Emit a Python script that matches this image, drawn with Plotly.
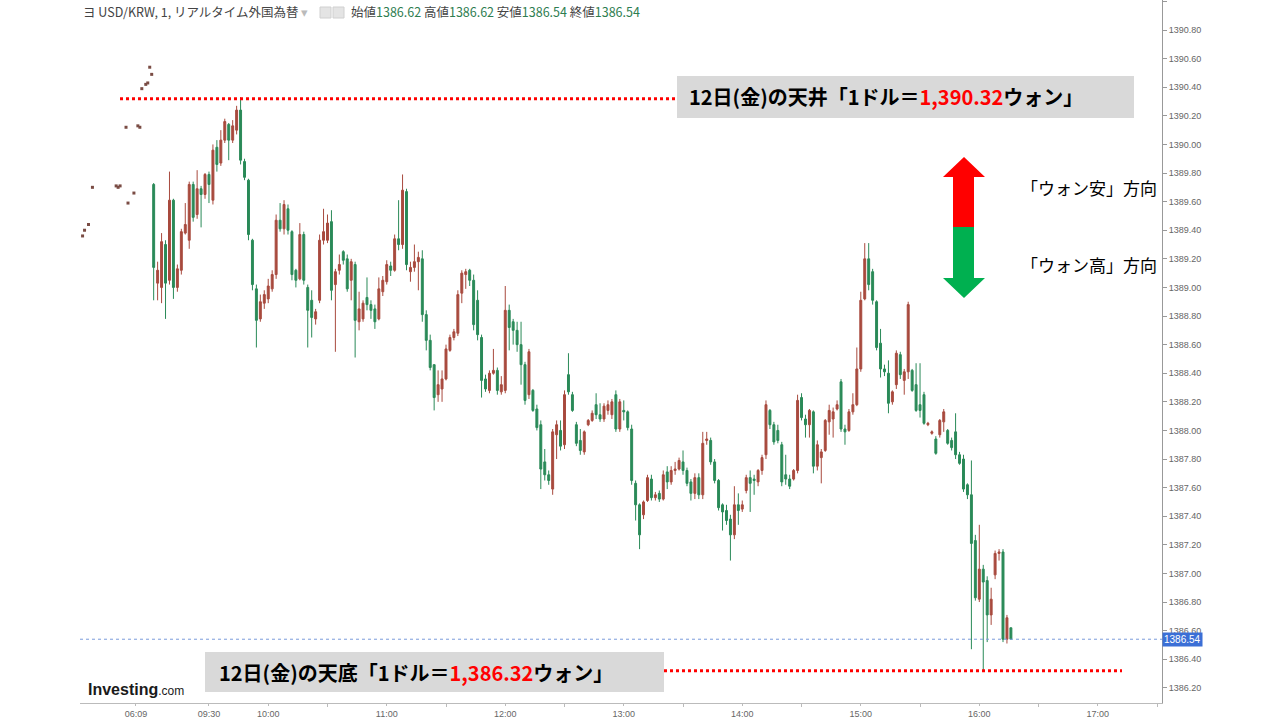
import plotly.graph_objects as go

# ---------------- data ----------------
# 2-minute bars, bar i starts at minute START_MIN + STEP*i relative to 09:30
START_MIN = -28
STEP = 2

OPEN = [1389.72,1389.03,1389.00,1389.30,1389.05,1389.61,1389.00,1389.12,1389.38,1389.33,
        1389.72,1389.51,1389.69,1389.65,1389.79,1389.61,1389.98,1389.87,1390.03,1390.14,
        1390.03,1390.10,1390.24,1389.88,1389.75,1389.33,1388.99,1388.78,1388.89,1388.92,
        1388.99,1389.09,1389.47,1389.41,1389.55,1389.39,1389.12,1389.06,1389.37,1389.00,
        1388.91,1388.78,1388.91,1389.33,1389.33,1389.46,1389.02,1389.12,1389.25,1389.20,
        1389.05,1389.16,1388.76,1388.78,1388.93,1388.88,1388.85,1388.78,1388.97,1389.04,
        1389.15,1389.12,1389.34,1389.30,1389.67,1389.11,1389.14,1389.18,1389.20,1388.81,
        1388.63,1388.46,1388.25,1388.29,1388.36,1388.56,1388.65,1388.68,1388.96,1389.09,
        1389.12,1389.05,1388.91,1388.65,1388.36,1388.28,1388.40,1388.42,1388.27,1388.28,
        1388.84,1388.76,1388.70,1388.60,1388.46,1388.25,1388.28,1388.15,1388.04,1387.78,
        1387.69,1387.59,1387.97,1388.00,1387.90,1388.39,1388.25,1388.04,1387.93,1387.85,
        1388.04,1388.07,1388.18,1388.11,1388.08,1388.14,1388.11,1388.25,1388.01,1388.14,
        1388.13,1388.01,1387.63,1387.48,1387.41,1387.51,1387.66,1387.53,1387.56,1387.52,
        1387.71,1387.64,1387.72,1387.73,1387.78,1387.72,1387.64,1387.56,1387.67,1387.55,
        1387.93,1387.93,1387.78,1387.65,1387.48,1387.44,1387.38,1387.27,1387.48,1387.45,
        1387.58,1387.67,1387.66,1387.64,1387.72,1387.83,1388.14,1388.04,1388.00,1387.90,
        1387.69,1387.66,1387.66,1387.72,1388.23,1388.08,1388.04,1388.13,1387.75,1387.81,
        1387.86,1388.06,1388.08,1388.15,1388.34,1388.01,1388.00,1388.13,1388.18,1388.43,
        1388.92,1389.20,1389.11,1388.90,1388.61,1388.43,1388.40,1388.20,1388.32,1388.53,
        1388.35,1388.41,1388.42,1388.32,1388.18,1388.25,1388.04,1387.98,1387.94,1387.97,
        1388.06,1388.00,1387.93,1387.99,1387.83,1387.80,1387.62,1387.55,1387.23,1386.82,
        1387.03,1386.95,1386.71,1386.99,1387.14,1387.15,1386.54,1386.62]

HIGH = [1389.73,1389.18,1389.38,1389.33,1389.81,1389.62,1389.16,1389.41,1389.59,1389.74,
        1389.74,1389.82,1389.71,1389.80,1389.81,1390.00,1390.03,1390.10,1390.18,1390.15,
        1390.17,1390.27,1390.33,1389.90,1389.76,1389.34,1389.02,1388.95,1388.98,1389.06,
        1389.12,1389.51,1389.59,1389.61,1389.58,1389.40,1389.13,1389.45,1389.39,1389.02,
        1388.98,1388.85,1389.37,1389.55,1389.51,1389.54,1389.13,1389.23,1389.26,1389.23,
        1389.20,1389.18,1388.97,1388.91,1389.07,1388.91,1388.88,1389.07,1389.08,1389.19,
        1389.18,1389.37,1389.61,1389.79,1389.69,1389.18,1389.30,1389.25,1389.26,1388.84,
        1388.67,1388.46,1388.42,1388.42,1388.60,1388.67,1388.71,1388.98,1389.12,1389.13,
        1389.13,1389.09,1388.98,1388.67,1388.39,1388.42,1388.57,1388.44,1388.38,1389.01,
        1388.88,1388.78,1388.76,1388.76,1388.48,1388.57,1388.29,1388.18,1388.07,1387.87,
        1387.72,1388.01,1388.07,1388.07,1388.28,1388.54,1388.27,1388.06,1388.01,1388.00,
        1388.08,1388.14,1388.26,1388.19,1388.19,1388.21,1388.22,1388.28,1388.22,1388.21,
        1388.14,1388.04,1387.65,1387.49,1387.51,1387.69,1387.69,1387.57,1387.58,1387.72,
        1387.75,1387.75,1387.78,1387.81,1387.86,1387.74,1387.66,1387.70,1387.70,1387.99,
        1387.99,1387.95,1387.80,1387.66,1387.49,1387.48,1387.41,1387.61,1387.56,1387.51,
        1387.69,1387.72,1387.69,1387.73,1387.83,1388.21,1388.15,1388.06,1388.04,1387.92,
        1387.83,1387.69,1387.73,1388.25,1388.26,1388.11,1388.15,1388.14,1387.93,1387.87,
        1388.08,1388.18,1388.16,1388.21,1388.36,1388.04,1388.15,1388.26,1388.58,1388.97,
        1389.31,1389.31,1389.13,1388.91,1388.71,1388.46,1388.49,1388.28,1388.56,1388.55,
        1388.43,1388.90,1388.43,1388.47,1388.47,1388.27,1388.06,1388.00,1387.96,1388.08,
        1388.15,1388.01,1387.95,1388.12,1387.85,1387.83,1387.63,1387.79,1387.27,1387.34,
        1387.06,1386.98,1386.90,1387.16,1387.17,1387.17,1386.71,1386.62]

LOW = [1388.91,1388.91,1388.89,1388.78,1389.02,1388.92,1388.97,1389.09,1389.37,1389.27,
       1389.46,1389.48,1389.42,1389.62,1389.59,1389.58,1389.81,1389.85,1390.01,1389.89,
       1390.01,1390.07,1389.86,1389.75,1389.33,1388.98,1388.58,1388.76,1388.85,1388.89,
       1388.97,1389.06,1389.39,1389.37,1389.37,1389.05,1389.00,1389.05,1389.02,1388.58,
       1388.65,1388.74,1388.89,1389.30,1389.31,1388.91,1388.55,1389.09,1389.16,1388.97,
       1388.91,1388.51,1388.70,1388.76,1388.84,1388.78,1388.71,1388.77,1388.94,1389.02,
       1389.08,1389.11,1389.26,1389.27,1389.12,1389.04,1389.11,1388.98,1388.76,1388.56,
       1388.42,1388.14,1388.20,1388.20,1388.35,1388.55,1388.63,1388.66,1388.89,1388.99,
       1389.01,1388.70,1388.63,1388.23,1388.27,1388.26,1388.39,1388.25,1388.25,1388.26,
       1388.56,1388.60,1388.55,1388.32,1388.18,1388.22,1388.13,1388.00,1387.59,1387.65,
       1387.62,1387.55,1387.80,1387.86,1387.87,1388.25,1388.13,1387.89,1387.83,1387.83,
       1388.03,1388.06,1388.08,1388.06,1388.06,1388.11,1388.08,1387.99,1387.99,1388.07,
       1388.00,1387.62,1387.37,1387.17,1387.38,1387.50,1387.51,1387.51,1387.50,1387.51,
       1387.59,1387.62,1387.69,1387.72,1387.69,1387.61,1387.51,1387.52,1387.52,1387.52,
       1387.90,1387.76,1387.63,1387.44,1387.30,1387.34,1387.09,1387.24,1387.34,1387.43,
       1387.56,1387.43,1387.55,1387.61,1387.69,1387.80,1388.01,1387.90,1387.91,1387.61,
       1387.62,1387.59,1387.65,1387.70,1388.07,1387.95,1387.95,1387.70,1387.72,1387.63,
       1387.85,1387.97,1387.95,1388.14,1387.99,1387.90,1387.99,1388.11,1388.17,1388.41,
       1388.91,1388.98,1388.88,1388.56,1388.37,1388.38,1388.12,1388.18,1388.29,1388.36,
       1388.25,1388.36,1388.27,1388.13,1388.09,1388.04,1388.03,1387.97,1387.83,1387.95,
       1387.99,1387.90,1387.86,1387.80,1387.76,1387.57,1387.52,1386.47,1386.81,1386.80,
       1386.32,1386.52,1386.64,1386.96,1387.09,1386.52,1386.51,1386.54]

CLOSE = [1389.14,1389.12,1389.32,1389.03,1389.61,1389.00,1389.13,1389.39,1389.44,1389.72,
         1389.49,1389.69,1389.65,1389.79,1389.72,1389.96,1389.86,1390.03,1390.16,1390.03,
         1390.13,1390.24,1389.89,1389.77,1389.37,1389.02,1388.77,1388.90,1388.95,1389.01,
         1389.09,1389.47,1389.41,1389.58,1389.40,1389.09,1389.05,1389.37,1389.05,1388.84,
         1388.79,1388.83,1389.33,1389.39,1389.45,1388.98,1389.11,1389.16,1389.19,1388.99,
         1389.18,1388.77,1388.85,1388.89,1388.88,1388.84,1388.76,1388.99,1389.05,1389.16,
         1389.12,1389.34,1389.30,1389.68,1389.16,1389.14,1389.18,1389.21,1388.81,1388.63,
         1388.44,1388.23,1388.32,1388.36,1388.57,1388.65,1388.69,1388.95,1389.10,1389.11,
         1389.05,1388.74,1388.67,1388.35,1388.29,1388.40,1388.42,1388.28,1388.32,1388.84,
         1388.72,1388.70,1388.60,1388.46,1388.21,1388.55,1388.14,1388.02,1387.73,1387.69,
         1387.65,1387.99,1388.04,1387.89,1388.25,1388.27,1388.14,1387.91,1387.86,1387.99,
         1388.07,1388.12,1388.11,1388.08,1388.17,1388.18,1388.20,1388.01,1388.20,1388.13,
         1388.02,1387.65,1387.48,1387.27,1387.50,1387.67,1387.53,1387.55,1387.52,1387.69,
         1387.64,1387.72,1387.73,1387.79,1387.72,1387.63,1387.56,1387.67,1387.55,1387.91,
         1387.94,1387.78,1387.65,1387.46,1387.43,1387.37,1387.27,1387.48,1387.44,1387.48,
         1387.67,1387.63,1387.65,1387.72,1387.81,1388.18,1388.04,1387.92,1387.93,1387.64,
         1387.66,1387.61,1387.72,1388.21,1388.09,1388.04,1388.14,1387.75,1387.90,1387.85,
         1388.07,1388.14,1388.13,1388.18,1388.01,1387.99,1388.13,1388.18,1388.43,1388.91,
         1389.20,1389.02,1388.91,1388.58,1388.43,1388.41,1388.19,1388.27,1388.54,1388.39,
         1388.41,1388.88,1388.28,1388.14,1388.14,1388.05,1388.05,1387.99,1387.84,1388.07,
         1388.13,1387.91,1387.88,1387.83,1387.77,1387.59,1387.55,1387.21,1386.83,1387.03,
         1386.94,1386.71,1386.82,1387.14,1387.15,1386.54,1386.69,1386.54]

# pre-market ticks (minute position on the same axis, price)
PRE_POS = [-64, -63, -61, -59, -47, -46, -45, -42, -41, -38, -36, -35, -34, -32, -31, -30, -29]
PRE_PRICE = [1389.36, 1389.40, 1389.44, 1389.70, 1389.71, 1389.70, 1389.71, 1390.12, 1389.59,
             1389.66, 1390.13, 1390.12, 1390.39, 1390.42, 1390.43, 1390.54, 1390.49]

TICK_POS = [-37, 0, 30, 90, 150, 210, 270, 330, 390, 450]
TICK_TEXT = ['06:09', '09:30', '10:00', '11:00', '12:00', '13:00', '14:00', '15:00', '16:00', '17:00']
MINOR_POS = [60, 120, 180, 240, 300, 360, 420, 480]

DAY_HIGH = 1390.32
DAY_LOW = 1386.32
LAST = 1386.54
HDR_OPEN, HDR_HIGH, HDR_LOW, HDR_CLOSE = 1386.62, 1386.62, 1386.54, 1386.54

X_RANGE = [-65.3, 482.5]
Y_RANGE = [1386.094, 1391.01]

# ---------------- figure ----------------
UP = '#a84a3e'
DOWN = '#2a8a58'
JP = 'Noto Sans CJK JP'

times = [START_MIN + STEP * i for i in range(len(CLOSE))]

fig = go.Figure()
fig.add_trace(go.Candlestick(
    x=times, open=OPEN, high=HIGH, low=LOW, close=CLOSE,
    increasing=dict(line=dict(color=UP, width=1), fillcolor=UP),
    decreasing=dict(line=dict(color=DOWN, width=1), fillcolor=DOWN),
    whiskerwidth=0, hoverinfo='skip', showlegend=False))
fig.add_trace(go.Scatter(
    x=PRE_POS, y=PRE_PRICE, mode='markers',
    marker=dict(symbol='square', size=3, color='#7a4c44'),
    hoverinfo='skip', showlegend=False))

# plot area in pixels
PX0, PW, PY0, PH = 80, 1082, 0, 703


def px(x):
    return (x - PX0) / PW


def py(y):
    return 1 - (y - PY0) / PH


shapes = []
# dotted day high / low lines
shapes.append(dict(type='line', xref='paper', yref='y', x0=px(120), x1=px(677),
                   y0=DAY_HIGH, y1=DAY_HIGH, line=dict(color='#ff0000', width=3, dash='dot')))
shapes.append(dict(type='line', xref='paper', yref='y', x0=px(664), x1=px(1122),
                   y0=DAY_LOW, y1=DAY_LOW, line=dict(color='#ff0000', width=3, dash='dot')))
# last price line
shapes.append(dict(type='line', xref='paper', yref='y', x0=0, x1=1, y0=LAST, y1=LAST,
                   line=dict(color='#7b9bdc', width=1, dash='dot')))
# grey boxes
shapes.append(dict(type='rect', xref='paper', yref='paper', x0=px(677), x1=px(1134),
                   y0=py(118), y1=py(76), fillcolor='#d9d9d9', line=dict(width=0)))
shapes.append(dict(type='rect', xref='paper', yref='paper', x0=px(205), x1=px(664),
                   y0=py(692), y1=py(652), fillcolor='#d9d9d9', line=dict(width=0)))
# small toolbar icons in the header
for ix in (320, 333):
    shapes.append(dict(type='rect', xref='paper', yref='paper', x0=px(ix), x1=px(ix + 11),
                       y0=py(18), y1=py(7), fillcolor='#e4e4e4', line=dict(color='#d0d0d0', width=1)))


def poly(points):
    s = ''
    for i, (a, b) in enumerate(points):
        s += ('M' if i == 0 else 'L') + f'{px(a):.5f},{py(b):.5f} '
    return s + 'Z'


red_arrow = [(953, 227), (953, 177), (943, 177), (964, 157), (985, 177), (974, 177), (974, 227)]
green_arrow = [(953, 227), (953, 278), (943, 278), (964, 298), (985, 278), (974, 278), (974, 227)]
shapes.append(dict(type='path', xref='paper', yref='paper', path=poly(red_arrow),
                   fillcolor='#ff0000', line=dict(width=0)))
shapes.append(dict(type='path', xref='paper', yref='paper', path=poly(green_arrow),
                   fillcolor='#00b050', line=dict(width=0)))

G = '#2e7d50'
annotations = [
    dict(xref='paper', yref='paper', x=px(81), y=py(12), xanchor='left', yanchor='middle',
         showarrow=False, font=dict(family=JP, size=12.5, color='#444'),
         text="ヨ USD/KRW, 1, リアルタイム外国為替 <span style='color:#bbb'>▾</span>"),
    dict(xref='paper', yref='paper', x=px(349), y=py(12), xanchor='left', yanchor='middle',
         showarrow=False, font=dict(family=JP, size=12.5, color='#444'),
         text=(f"始値<span style='color:{G}'>{HDR_OPEN:.2f}</span> "
               f"高値<span style='color:{G}'>{HDR_HIGH:.2f}</span> "
               f"安値<span style='color:{G}'>{HDR_LOW:.2f}</span> "
               f"終値<span style='color:{G}'>{HDR_CLOSE:.2f}</span>")),
    dict(xref='paper', yref='paper', x=px(687), y=py(97), xanchor='left', yanchor='middle',
         showarrow=False, font=dict(family=JP, size=20, color='#000'),
         text=f"<b>12日(金)の天井「1ドル＝<span style='color:#ff0000'>{DAY_HIGH:,.2f}</span>ウォン」</b>"),
    dict(xref='paper', yref='paper', x=px(217), y=py(672), xanchor='left', yanchor='middle',
         showarrow=False, font=dict(family=JP, size=20, color='#000'),
         text=f"<b>12日(金)の天底「1ドル＝<span style='color:#ff0000'>{DAY_LOW:,.2f}</span>ウォン」</b>"),
    dict(xref='paper', yref='paper', x=px(1019), y=py(187), xanchor='left', yanchor='middle',
         showarrow=False, font=dict(family=JP, size=17, color='#000'), text="「ウォン安」方向"),
    dict(xref='paper', yref='paper', x=px(1019), y=py(264), xanchor='left', yanchor='middle',
         showarrow=False, font=dict(family=JP, size=17, color='#000'), text="「ウォン高」方向"),
    dict(xref='paper', yref='paper', x=px(86), y=py(689), xanchor='left', yanchor='middle',
         showarrow=False, font=dict(family='Liberation Sans', size=16, color='#1a1a1a'),
         text="<b>Investing</b><span style='font-size:12px'>.com</span>"),
    dict(xref='paper', yref='y', x=1, y=LAST, xanchor='left', yanchor='middle',
         showarrow=False, font=dict(family='Liberation Sans', size=10, color='#ffffff'),
         bgcolor='#3b6fd6', borderpad=1, text=f"{LAST:.2f}"),
]

fig.update_layout(
    width=1280, height=720,
    margin=dict(l=80, r=118, t=0, b=17),
    paper_bgcolor='white', plot_bgcolor='white',
    showlegend=False,
    shapes=shapes, annotations=annotations,
    xaxis=dict(range=X_RANGE, tickmode='array', tickvals=TICK_POS, ticktext=TICK_TEXT,
               ticks='outside', ticklen=2, tickcolor='#bbb', showline=True, linecolor='#bbb',
               linewidth=1, showgrid=False, zeroline=False, automargin=False,
               tickfont=dict(family='Liberation Sans Narrow, Liberation Sans', size=9, color='#666'),
               minor=dict(tickmode='array', tickvals=MINOR_POS, ticks='outside', ticklen=3,
                          tickcolor='#bbb', showgrid=False),
               rangeslider=dict(visible=False)),
    yaxis=dict(range=Y_RANGE, side='right', tickformat='.2f', dtick=0.2, tick0=1386.0,
               ticks='outside', ticklen=4, tickcolor='#999', showline=True, linecolor='#999',
               linewidth=1, showgrid=False, zeroline=False, automargin=False,
               tickfont=dict(family='Liberation Sans', size=9, color='#666')),
)

fig.write_html("out.html", config={'displayModeBar': False},
               post_script="document.body.style.margin='0';")
